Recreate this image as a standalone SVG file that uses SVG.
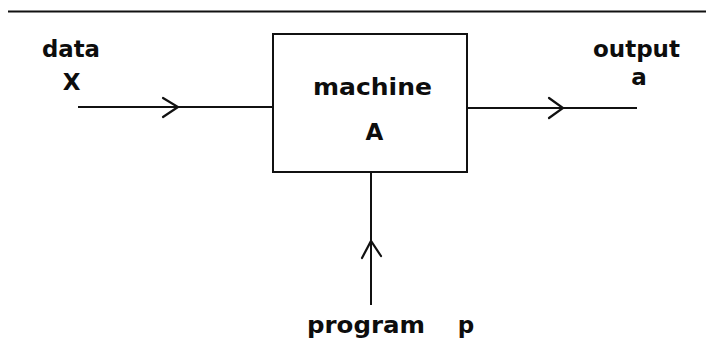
<svg xmlns="http://www.w3.org/2000/svg" width="706" height="343" viewBox="0 0 706 343">
  <style>
    .lbl { font-family: "DejaVu Sans", "Liberation Sans", sans-serif; font-weight: bold; font-size: 23px; fill: #0d0d0d; }
    .ln { stroke: #111; stroke-width: 2; fill: none; }
    .chev { stroke: #111; stroke-width: 2.2; fill: none; stroke-linecap: round; stroke-linejoin: miter; }
  </style>
  <rect width="706" height="343" fill="#fff"/>

  <!-- rule across the top -->
  <line class="ln" x1="8" y1="11.5" x2="706" y2="11.5"/>

  <g id="machine">
    <rect class="ln" x="273" y="34" width="194" height="138"/>
    <text class="lbl" x="372.5" y="95" text-anchor="middle" font-size="24" textLength="119" lengthAdjust="spacingAndGlyphs">machine</text>
    <text class="lbl" x="374.5" y="140" text-anchor="middle" font-size="24">A</text>
  </g>

  <g id="data">
    <text class="lbl" x="71" y="57" text-anchor="middle" font-size="25.5" textLength="58" lengthAdjust="spacingAndGlyphs">data</text>
    <text class="lbl" x="71.5" y="90" text-anchor="middle">X</text>
  </g>

  <g id="output">
    <text class="lbl" x="636.5" y="57" text-anchor="middle" font-size="25.5" textLength="87" lengthAdjust="spacingAndGlyphs">output</text>
    <text class="lbl" x="639" y="85" text-anchor="middle">a</text>
  </g>

  <g id="program">
    <text class="lbl" x="366" y="333" text-anchor="middle" font-size="24" textLength="118" lengthAdjust="spacingAndGlyphs">program</text>
    <text class="lbl" x="466" y="333" text-anchor="middle" font-size="24">p</text>
  </g>

  <g id="connectors">
    <!-- data into machine -->
    <line class="ln" x1="78" y1="107" x2="273" y2="107"/>
    <polyline class="chev" points="163,98 178,107 163,117"/>
    <!-- machine to output -->
    <line class="ln" x1="467" y1="108" x2="637" y2="108"/>
    <polyline class="chev" points="549,98 563,108 549,118"/>
    <!-- program into machine -->
    <line class="ln" x1="371" y1="172" x2="371" y2="305"/>
    <polyline class="chev" points="362,258 371,241 381,256"/>
  </g>
</svg>
